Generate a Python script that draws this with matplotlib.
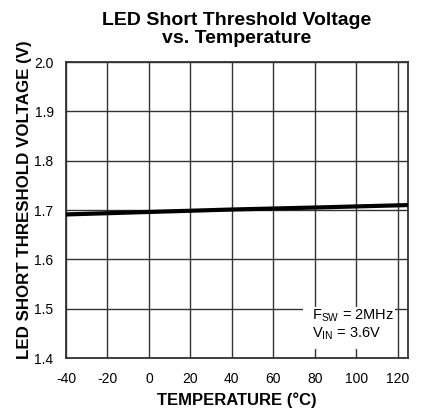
import numpy as np
import matplotlib
matplotlib.use('Agg')
import matplotlib.pyplot as plt
from matplotlib.patches import Rectangle

plt.rcParams['font.family'] = ['Liberation Sans', 'DejaVu Sans']
plt.rcParams['axes.unicode_minus'] = False

# ----- Data -----
temp = [-40, 0, 40, 80, 125]
vth = [1.691, 1.696, 1.701, 1.705, 1.710]
xticks = [-40, -20, 0, 20, 40, 60, 80, 100, 120]
yticks = [1.4, 1.5, 1.6, 1.7, 1.8, 1.9, 2.0]

# ----- Plot -----
fig = plt.figure(figsize=(4.24, 4.13), dpi=100)
ax = fig.add_axes([66/424, 1 - 358/413, 342/424, 296/413])

ax.set_xlim(-40, 125)
ax.set_ylim(1.4, 2.0)
ax.set_xticks(xticks)
ax.set_yticks(yticks)
ax.set_yticklabels(['%.1f' % v for v in yticks])
ax.grid(True, color='#333333', linewidth=1.0)
ax.tick_params(axis='x', length=0, labelsize=10, pad=10)
ax.tick_params(axis='y', length=0, labelsize=10, pad=9)
for s in ax.spines.values():
    s.set_linewidth(1.3)
    s.set_color('#333333')

ax.plot(temp, vth, color='black', linewidth=3.0, solid_capstyle='butt', zorder=3)

ax.set_title('LED Short Threshold Voltage\nvs. Temperature', fontsize=14,
             fontweight='bold', pad=14, linespacing=1.05)
ax.set_xlabel('TEMPERATURE (°C)', fontsize=12, fontweight='bold', labelpad=4.5)
ax.set_ylabel('LED SHORT THRESHOLD VOLTAGE (V)', fontsize=12.2, fontweight='bold')
ax.yaxis.set_label_coords(-0.1, 0.536)

# white box behind the conditions note
ax.add_patch(Rectangle((74.3, 1.418), 44.4, 0.086, facecolor='white',
                       edgecolor='none', zorder=2.5))
ax.text(78.6, 1.433, '$\\mathregular{F_{SW}}$ = 2MHz\n$\\mathregular{V_{IN}}$ = 3.6V',
        fontsize=10.5, va='bottom', ha='left', linespacing=1.1, zorder=4)

fig.savefig('out.png', dpi=100)
